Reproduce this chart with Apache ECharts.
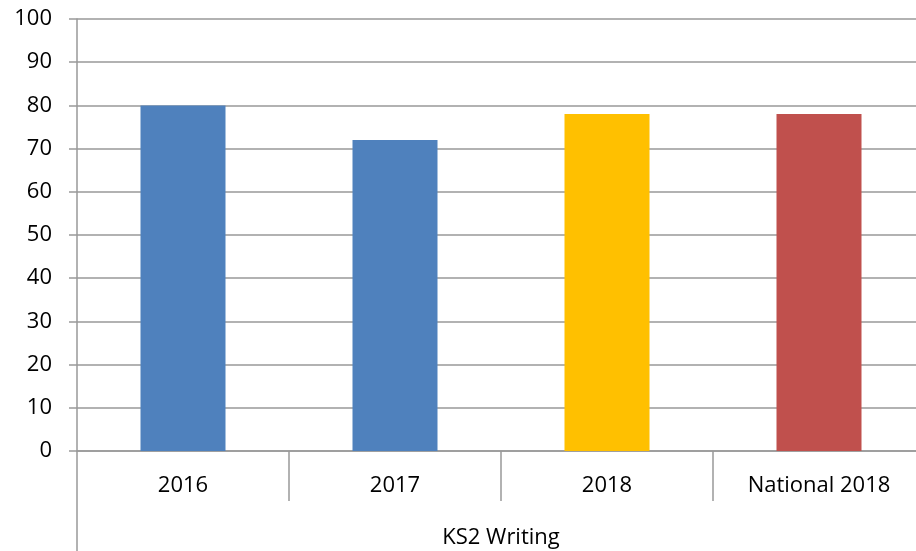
<!DOCTYPE html>
<html>
<head>
<meta charset="utf-8">
<script src="https://cdn.jsdelivr.net/npm/echarts@6/dist/echarts.min.js"></script>
<style>html,body{margin:0;padding:0;background:#fff;overflow:hidden;width:916px;height:551px}#c{width:926px;height:551px}</style>
</head>
<body>
<div id="c"></div>
<script>
var categories = ['2016', '2017', '2018', 'National 2018'];
var values = [80, 72, 78, 78];
var barColors = ['#4F81BD', '#4F81BD', '#FFC000', '#C0504D'];
var groupLabel = ['KS2 Writing'];
var yMin = 0, yMax = 100, yStep = 10;

var FONT = 'Open Sans';
var chart = echarts.init(document.getElementById('c'), null, {renderer: 'canvas'});
var lineC = '#999999';
chart.setOption({
  animation: false,
  backgroundColor: '#fff',
  grid: {left: 77, top: 19, width: 848, height: 432},
  xAxis: [{
    type: 'category',
    data: categories,
    position: 'bottom',
    axisLine: {show: true, lineStyle: {color: lineC, width: 1.5}},
    axisTick: {show: true, length: 50, alignWithLabel: false, lineStyle: {color: lineC, width: 1.5}},
    axisLabel: {color: '#000', fontFamily: FONT, fontSize: 22, margin: 24},
    splitLine: {show: false}
  }, {
    type: 'category',
    data: groupLabel,
    position: 'bottom',
    axisLine: {show: false},
    axisTick: {show: true, length: 100, lineStyle: {color: lineC, width: 1.5}},
    axisLabel: {color: '#000', fontFamily: FONT, fontSize: 22, margin: 76},
    splitLine: {show: false}
  }],
  yAxis: {
    type: 'value',
    min: yMin, max: yMax, interval: yStep,
    axisLine: {show: true, lineStyle: {color: lineC, width: 1.5}},
    axisTick: {show: true, length: 8, lineStyle: {color: lineC, width: 1.5}},
    axisLabel: {color: '#000', fontFamily: FONT, fontSize: 22, margin: 25},
    splitLine: {show: true, lineStyle: {color: lineC, width: 1.5}}
  },
  series: [{
    type: 'bar',
    xAxisIndex: 0,
    barWidth: 85,
    data: values.map(function (v, i) { return {value: v, itemStyle: {color: barColors[i]}}; })
  }]
});
</script>
</body>
</html>
